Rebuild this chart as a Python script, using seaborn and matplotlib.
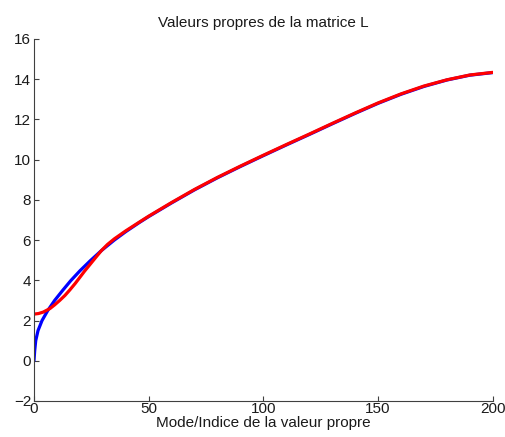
import matplotlib
matplotlib.use("Agg")
import matplotlib.pyplot as plt
import seaborn as sns
import pandas as pd

# Blue curve (mode index, eigenvalue)
blue_x = [0, 0.3, 0.75, 1.75, 3.5, 6, 9, 12.5, 16, 20, 24.5, 29.4, 35, 40, 46,
          50, 60, 70, 80, 90, 100, 110, 120, 130, 140, 150, 160, 170, 180,
          190, 200]
blue_y = [0.0, 0.5, 1.0, 1.5, 2.0, 2.5, 3.0, 3.5, 3.98, 4.47, 4.97, 5.48, 6.0,
          6.42, 6.88, 7.17, 7.85, 8.5, 9.1, 9.66, 10.2, 10.73, 11.25, 11.78,
          12.3, 12.8, 13.25, 13.64, 13.96, 14.2, 14.33]

# Red curve
red_x = [0, 2, 4, 7, 9, 11.2, 13.5, 15.6, 18, 20, 22, 24.5, 27, 29.4, 32, 35,
         40, 46, 50, 60, 70, 80, 90, 100, 110, 120, 130, 140, 150, 160, 170,
         180, 190, 200]
red_y = [2.32, 2.35, 2.42, 2.6, 2.78, 3.0, 3.25, 3.52, 3.85, 4.15, 4.45, 4.8,
         5.15, 5.48, 5.78, 6.06, 6.46, 6.9, 7.19, 7.87, 8.52, 9.12, 9.68,
         10.22, 10.75, 11.27, 11.8, 12.32, 12.82, 13.27, 13.66, 13.97, 14.21,
         14.34]

title = "Valeurs propres de la matrice L"
xlabel = "Mode/Indice de la valeur propre"
xticks = [0, 50, 100, 150, 200]
yticks = [-2, 0, 2, 4, 6, 8, 10, 12, 14, 16]

sns.set_style("white")
plt.rcParams["font.family"] = ["Liberation Sans", "DejaVu Sans"]
plt.rcParams["font.size"] = 11

fig = plt.figure(figsize=(5.06, 4.37), dpi=100)
ax = fig.add_axes([34 / 506, 1 - 401 / 437, (492.7 - 34) / 506, (401 - 39) / 437])

df_blue = pd.DataFrame({"x": blue_x, "y": blue_y})
df_red = pd.DataFrame({"x": red_x, "y": red_y})
sns.lineplot(data=df_blue, x="x", y="y", color=(0, 0, 1), linewidth=2.3, ax=ax)
sns.lineplot(data=df_red, x="x", y="y", color=(1, 0, 0), linewidth=2.3, ax=ax)

ax.set_xlim(0, 200)
ax.set_ylim(-2, 16)
ax.set_xticks(xticks)
ax.set_yticks(yticks)
ax.set_xticklabels([str(t) for t in xticks])
ax.set_yticklabels([("\u2212" + str(-t)) if t < 0 else str(t) for t in yticks])

for s in ["top", "right"]:
    ax.spines[s].set_visible(False)
for s in ["left", "bottom"]:
    ax.spines[s].set_color("#404040")
    ax.spines[s].set_linewidth(0.8)

ax.tick_params(axis="both", which="major", direction="in", length=3.6,
               width=0.8, color="#404040", labelsize=11, labelcolor="#1a1a1a",
               bottom=True, left=True, top=False, right=False)
ax.tick_params(axis="x", pad=1)
ax.tick_params(axis="y", pad=2)

ax.set_title(title, fontsize=11, pad=9, color="#1a1a1a")
ax.set_xlabel(xlabel, fontsize=11, labelpad=0, color="#1a1a1a")
ax.set_ylabel("")

fig.savefig("out.png", dpi=100)
